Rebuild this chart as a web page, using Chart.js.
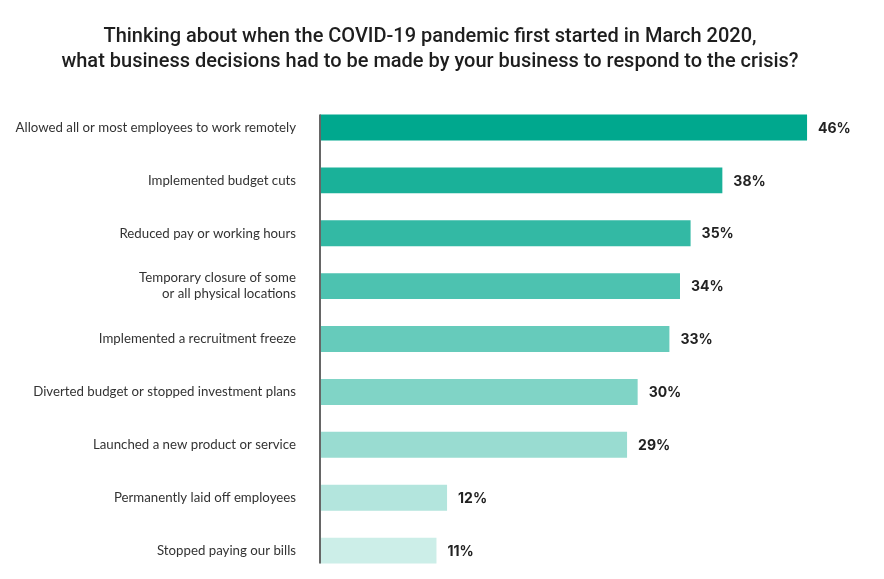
<!DOCTYPE html>
<html>
<head>
<meta charset="utf-8">
<script src="https://cdn.jsdelivr.net/npm/chart.js@4.4.1/dist/chart.umd.min.js"></script>
<style>
  html, body { margin: 0; padding: 0; background: #fff; overflow: hidden; }
  #wrap { position: relative; width: 884px; height: 579px; }
</style>
</head>
<body>
<div id="wrap"><canvas id="decisionsChart"></canvas></div>
<script>
// categories and values
const categories = [
	"Allowed all or most employees to work remotely",
	"Implemented budget cuts",
	"Reduced pay or working hours",
	["Temporary closure of some", "or all physical locations"],
	"Implemented a recruitment freeze",
	"Diverted budget or stopped investment plans",
	"Launched a new product or service",
	"Permanently laid off employees",
	"Stopped paying our bills"
];
const shares = [46, 38, 35, 34, 33, 30, 29, 12, 11];
const barColors = ["#00a88e", "#1ab199", "#33b9a4", "#4dc2b0", "#66cbbb", "#80d4c6", "#99dcd1", "#b3e5dd", "#cceee8"];
const titleLines = [
	"Thinking about when the COVID-19 pandemic first started in March 2020,",
	"what business decisions had to be made by your business to respond to the crisis?"
];

// percent text at the end of each bar + short axis line
const barExtras = {
	id: 'barExtras',
	afterDatasetsDraw(chart) {
		const ctx = chart.ctx;
		const bars = chart.getDatasetMeta(0).data;
		ctx.save();
		ctx.font = "bold 14px Inter, 'Noto Sans', sans-serif";
		ctx.fillStyle = "#222";
		ctx.textBaseline = "middle";
		ctx.textAlign = "left";
		bars.forEach((bar, i) => {
			ctx.fillText(shares[i] + "%", bar.x + 11, bar.y + 1);
		});
		// vertical line only as tall as the bars
		const first = bars[0], last = bars[bars.length - 1];
		ctx.strokeStyle = "#666";
		ctx.lineWidth = 2;
		ctx.beginPath();
		ctx.moveTo(first.base, first.y - first.height / 2);
		ctx.lineTo(first.base, last.y + last.height / 2);
		ctx.stroke();
		ctx.restore();
	}
};

var ctx = document.getElementById('decisionsChart').getContext('2d');
const config = {
	type: 'bar',
	data: {
		labels: categories,
		datasets: [{
			data: shares,
			backgroundColor: barColors,
			borderWidth: 0,
			barPercentage: 0.7,
			categoryPercentage: 0.7
		}]
	},
	options: {
		indexAxis: 'y',
		responsive: true,
		maintainAspectRatio: false,
		animation: false,
		layout: { padding: { top: 0, right: 24, bottom: 0, left: 0 } },
		plugins: {
			legend: { display: false },
			tooltip: { enabled: false },
			title: {
				display: true,
				text: titleLines,
				color: "#1e1e1e",
				font: { family: "Roboto, 'Noto Sans', sans-serif", size: 20, weight: '500', lineHeight: 1.25 },
				padding: { top: 24, bottom: 27 }
			}
		},
		scales: {
			x: {
				min: 0,
				max: 51,
				display: false
			},
			y: {
				// tick marks are hidden, tickLength only pushes the labels away from the bars
				grid: { display: false, drawTicks: true, tickLength: 30 },
				border: { display: false },
				afterFit: scale => { scale.width = 320; },
				ticks: {
					padding: -6,
					color: "#333",
					font: { family: "Lato, 'Noto Sans', sans-serif", size: 13.25, lineHeight: 1.2 }
				}
			}
		}
	},
	plugins: [barExtras]
};

var makeBarChart = (ctx, config) => new Chart(ctx, config);
makeBarChart(ctx, config);
</script>
</body>
</html>
